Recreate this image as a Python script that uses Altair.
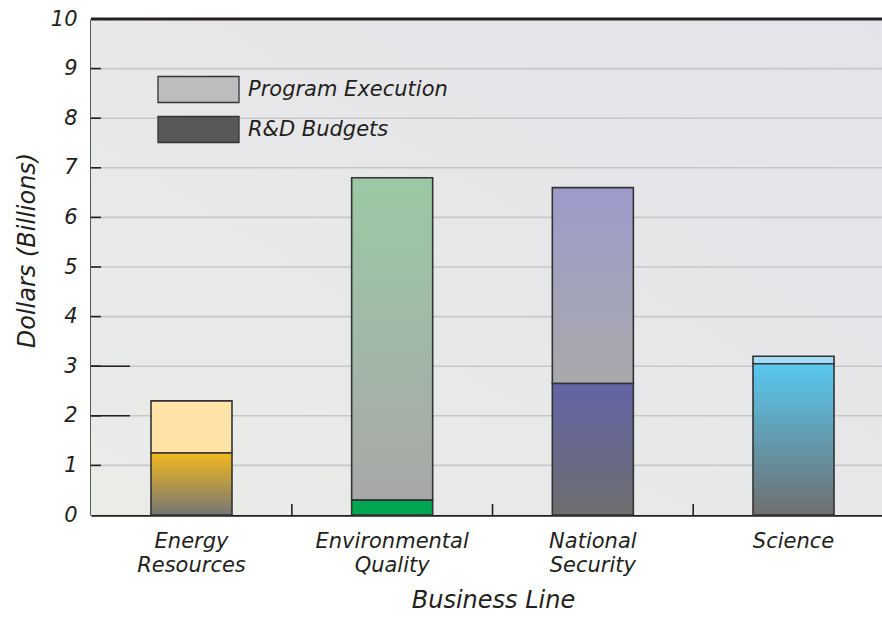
import altair as alt
import pandas as pd

categories = ["Energy Resources", "Environmental Quality", "National Security", "Science"]
rd_budgets = [1.25, 0.30, 2.65, 3.05]
program_totals = [2.30, 6.80, 6.60, 3.20]
y_ticks = [0, 1, 2, 3, 4, 5, 6, 7, 8, 9, 10]
inner_ticks = [1, 2, 3, 4, 5, 6, 7, 8, 9]
long_ticks = [2, 3]
legend_labels = ["Program Execution", "R&D Budgets"]
legend_colors = ["#bdbdc0", "#58595b"]

rd_top = ["#f2b91c", "#00a651", "#6264a6", "#58c8f0"]
rd_bottom = ["#757575", "#00a651", "#6e6e6e", "#6e6e6e"]
pe_top = ["#fee2a6", "#9bc9a5", "#9c9bcb", "#a6dcf6"]
pe_bottom = ["#fee2a6", "#a8a8a8", "#a9a9aa", "#a6dcf6"]

FONT = "DejaVu Sans"
INK = "#231f20"
W, H = 791, 496


def grad(top, bottom, x1=0, y1=0, x2=0, y2=1):
    return alt.LinearGradient(
        gradient="linear", x1=x1, y1=y1, x2=x2, y2=y2,
        stops=[alt.GradientStop(offset=0, color=top),
               alt.GradientStop(offset=1, color=bottom)],
    )


df = pd.DataFrame({
    "category": categories,
    "rd": rd_budgets,
    "total": program_totals,
})

xscale = alt.Scale(domain=categories, paddingInner=0.5963, paddingOuter=0.269, align=0.5556)
yscale = alt.Scale(domain=[0, 10], nice=False, zero=True)

x_enc = alt.X(
    "category:N", scale=xscale, sort=categories,
    axis=alt.Axis(
        title="Business Line", labelAngle=0, ticks=False, domain=True,
        domainColor=INK, domainWidth=2.5,
        labelExpr="split(datum.label, ' ')", labelLineHeight=24,
        labelFont=FONT, labelFontSize=21, labelFontStyle="italic", labelColor=INK,
        labelPadding=15, labelLimit=400,
        titleFont=FONT, titleFontSize=24, titleFontStyle="italic",
        titleFontWeight="normal", titleColor=INK,
        titleX=402, titleY=92, titleBaseline="alphabetic",
    ),
)

y_axis = alt.Axis(
    title="Dollars (Billions)", values=y_ticks, ticks=False, grid=False,
    domain=True, domainColor=INK, domainWidth=2.5,
    labelFont=FONT, labelFontSize=21, labelFontStyle="italic", labelColor=INK,
    labelPadding=14,
    titleFont=FONT, titleFontSize=24, titleFontStyle="italic",
    titleFontWeight="normal", titleColor=INK,
    titleX=-64, titleY=231, titleBaseline="middle",
)

bg = alt.Chart(pd.DataFrame({"k": [0]})).mark_rect(
    fill=grad("#eaece8", "#e4e3ea", x1=0, y1=1, x2=1, y2=0)
).encode(x=alt.value(0), x2=alt.value(W), y=alt.value(0), y2=alt.value(H))

grid = alt.Chart(pd.DataFrame({"v": inner_ticks})).mark_rule(
    color="#c7c7ca", strokeWidth=1.6
).encode(
    y=alt.Y("v:Q", scale=yscale, axis=y_axis),
    x=alt.value(0), x2=alt.value(W),
)

tick_short = alt.Chart(pd.DataFrame({"v": inner_ticks})).mark_rule(
    color=INK, strokeWidth=1.6
).encode(y=alt.Y("v:Q", scale=yscale), x=alt.value(0), x2=alt.value(10))

tick_long = alt.Chart(pd.DataFrame({"v": long_ticks})).mark_rule(
    color=INK, strokeWidth=1.6
).encode(y=alt.Y("v:Q", scale=yscale), x=alt.value(0), x2=alt.value(39))

top_line = alt.Chart(pd.DataFrame({"v": [10]})).mark_rule(
    color=INK, strokeWidth=3
).encode(y=alt.Y("v:Q", scale=yscale), x=alt.value(0), x2=alt.value(W))

layers = [bg, grid, tick_short, tick_long, top_line]

for i, c in enumerate(categories):
    base = alt.Chart(df).transform_filter(alt.datum.category == c)
    rd_layer = base.mark_bar(
        fill=grad(rd_top[i], rd_bottom[i]), stroke="#333333", strokeWidth=1.6
    ).encode(
        x=x_enc,
        y=alt.Y("zero:Q", scale=yscale),
        y2="rd:Q",
    ).transform_calculate(zero="0")
    pe_layer = base.mark_bar(
        fill=grad(pe_top[i], pe_bottom[i]), stroke="#333333", strokeWidth=1.6
    ).encode(
        x=x_enc,
        y=alt.Y("rd:Q", scale=yscale),
        y2="total:Q",
    )
    layers += [pe_layer, rd_layer]

sep = alt.Chart(df.iloc[1:]).mark_rule(color=INK, strokeWidth=1.6, xOffset=-100.3).encode(
    x=alt.X("category:N", scale=xscale, sort=categories),
    y=alt.Y("zero:Q", scale=yscale),
    y2=alt.value(H - 11),
).transform_calculate(zero="0")
layers.append(sep)

legend_df = pd.DataFrame({"series": legend_labels})
legend_layer = alt.Chart(legend_df).mark_square(opacity=0, size=1).encode(
    fill=alt.Fill(
        "series:N",
        scale=alt.Scale(domain=legend_labels, range=legend_colors),
        legend=alt.Legend(
            title=None, orient="none", legendX=93, legendY=56,
            symbolType="M-3,-0.963H3V0.963H-3Z", symbolSize=729,
            symbolStrokeColor="#333333", symbolStrokeWidth=1.3, symbolOpacity=1,
            labelFont=FONT, labelFontSize=21, labelFontStyle="italic",
            labelColor=INK, labelOffset=35, rowPadding=7, labelLimit=400,
        ),
    )
)
layers.append(legend_layer)

chart = alt.layer(*layers).properties(
    width=W, height=H,
    autosize=alt.AutoSizeParams(type="none"),
    padding={"left": 91, "top": 19, "right": 0, "bottom": 103},
).configure_view(stroke=None).configure(background="white")

chart.save("out.html", embed_options={"renderer": "svg", "actions": False})
